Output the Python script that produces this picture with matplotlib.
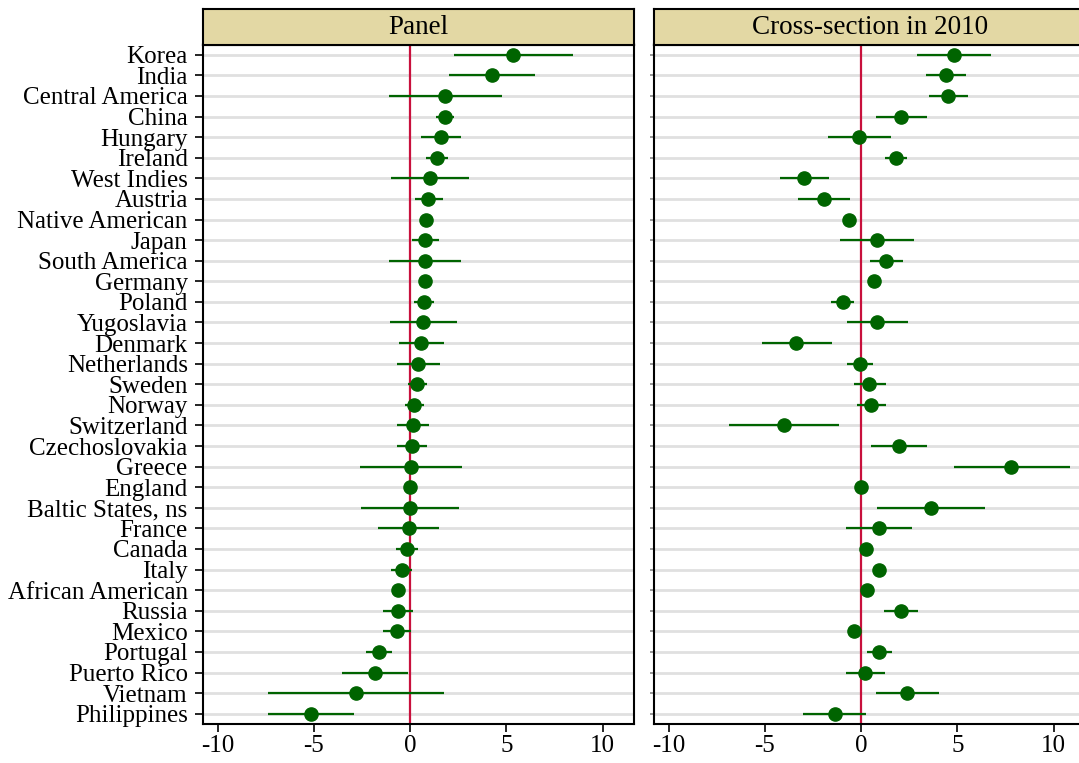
import matplotlib
matplotlib.use("Agg")
import matplotlib.pyplot as plt

countries = [
    "Korea", "India", "Central America", "China", "Hungary", "Ireland",
    "West Indies", "Austria", "Native American", "Japan", "South America",
    "Germany", "Poland", "Yugoslavia", "Denmark", "Netherlands", "Sweden",
    "Norway", "Switzerland", "Czechoslovakia", "Greece", "England",
    "Baltic States, ns", "France", "Canada", "Italy", "African American",
    "Russia", "Mexico", "Portugal", "Puerto Rico", "Vietnam", "Philippines",
]

# panel estimates with lower / upper bounds (no bar -> lo = hi = estimate)
panel_est = [5.36, 4.23, 1.82, 1.80, 1.59, 1.40, 1.04, 0.95, 0.85, 0.80, 0.78,
             0.78, 0.71, 0.66, 0.59, 0.41, 0.36, 0.21, 0.14, 0.09, 0.03, 0.00,
             0.00, -0.07, -0.16, -0.42, -0.61, -0.63, -0.66, -1.61, -1.82, -2.83, -5.15]
panel_lo = [2.30, 2.01, -1.09, 1.33, 0.55, 0.83, -0.97, 0.24, 0.85, 0.12, -1.09,
            0.78, 0.21, -1.06, -0.59, -0.69, -0.09, -0.26, -0.69, -0.69, -2.62, 0.00,
            -2.53, -1.65, -0.71, -0.97, -0.61, -1.39, -1.39, -2.31, -3.56, -7.37, -7.40]
panel_hi = [8.47, 6.48, 4.78, 2.29, 2.65, 1.99, 3.08, 1.73, 0.85, 1.51, 2.67,
            0.78, 1.25, 2.43, 1.78, 1.58, 0.86, 0.71, 1.00, 0.90, 2.72, 0.00,
            2.55, 1.52, 0.41, 0.09, -0.61, 0.15, 0.07, -0.92, -0.09, 1.78, -2.91]

# cross-section 2010
cross_est = [4.81, 4.39, 4.53, 2.08, -0.09, 1.81, -2.95, -1.94, -0.64, 0.82, 1.32,
             0.69, -0.95, 0.83, -3.37, -0.05, 0.43, 0.52, -4.03, 1.96, 7.81, 0.00,
             3.65, 0.94, 0.24, 0.92, 0.31, 2.07, -0.36, 0.94, 0.21, 2.38, -1.37]
cross_lo = [2.90, 3.35, 3.52, 0.78, -1.70, 1.25, -4.22, -3.30, -0.64, -1.09, 0.47,
            0.69, -1.54, -0.71, -5.17, -0.71, -0.38, -0.21, -6.88, 0.52, 4.81, 0.00,
            0.85, -0.76, 0.24, 0.60, 0.31, 1.20, -0.36, 0.31, -0.76, 0.76, -3.02]
cross_hi = [6.75, 5.45, 5.56, 3.42, 1.55, 2.38, -1.65, -0.57, -0.64, 2.76, 2.19,
            0.69, -0.36, 2.43, -1.53, 0.63, 1.27, 1.28, -1.16, 3.44, 10.85, 0.00,
            6.44, 2.66, 0.24, 1.25, 0.31, 2.95, -0.36, 1.60, 1.23, 4.05, 0.28]

titles = ["Panel", "Cross-section in 2010"]
xticks = [-10, -5, 0, 5, 10]

plt.rcParams["font.family"] = ["Liberation Serif", "DejaVu Serif"]

W, H = 1079, 763
fig = plt.figure(figsize=(W / 100, H / 100), dpi=100)

ax_w = 431.5 / W
ax_bottom = 1 - 724 / H
ax_h = (724 - 44.5) / H
strip_h = 36 / H
lefts = [203 / W, 654 / W]

green = "#006400"
red = "#c8103c"

for k, (est, lo, hi) in enumerate([(panel_est, panel_lo, panel_hi),
                                   (cross_est, cross_lo, cross_hi)]):
    ax = fig.add_axes([lefts[k], ax_bottom, ax_w, ax_h])
    y = list(range(len(countries)))
    err_lo = [e - l for e, l in zip(est, lo)]
    err_hi = [h - e for e, h in zip(est, hi)]
    ax.axvline(0, color=red, lw=1.6, zorder=2)
    ax.errorbar(est, y, xerr=[err_lo, err_hi], fmt="o", color=green,
                ms=9.5, elinewidth=1.6, capsize=0, zorder=3)
    ax.set_ylim(len(countries) - 0.5, -0.5)
    ax.set_xlim(-10.76, 11.66)
    ax.set_yticks(y)
    ax.set_xticks(xticks)
    ax.set_xticklabels([str(t) for t in xticks])
    ax.grid(axis="y", color="#e0e0e0", lw=2, zorder=0)
    ax.set_axisbelow(True)
    ax.tick_params(axis="x", direction="out", length=6, width=1.2,
                   labelsize=18, pad=2)
    ax.tick_params(axis="y", direction="out", length=6, width=1.2,
                   labelsize=18, pad=5)
    if k == 0:
        ax.set_yticklabels(countries)
    else:
        ax.set_yticklabels([])
        ax.tick_params(axis="y", length=3, color="#888888")
    for s in ax.spines.values():
        s.set_linewidth(1.5)

    # header strip
    sx = fig.add_axes([lefts[k], ax_bottom + ax_h, ax_w, strip_h])
    sx.set_facecolor("#e3d8a4")
    sx.set_xticks([])
    sx.set_yticks([])
    for s in sx.spines.values():
        s.set_linewidth(1.5)
    sx.text(0.5, 0.48, titles[k], ha="center", va="center", fontsize=19.5,
            transform=sx.transAxes)

fig.savefig("out.png", dpi=100)
